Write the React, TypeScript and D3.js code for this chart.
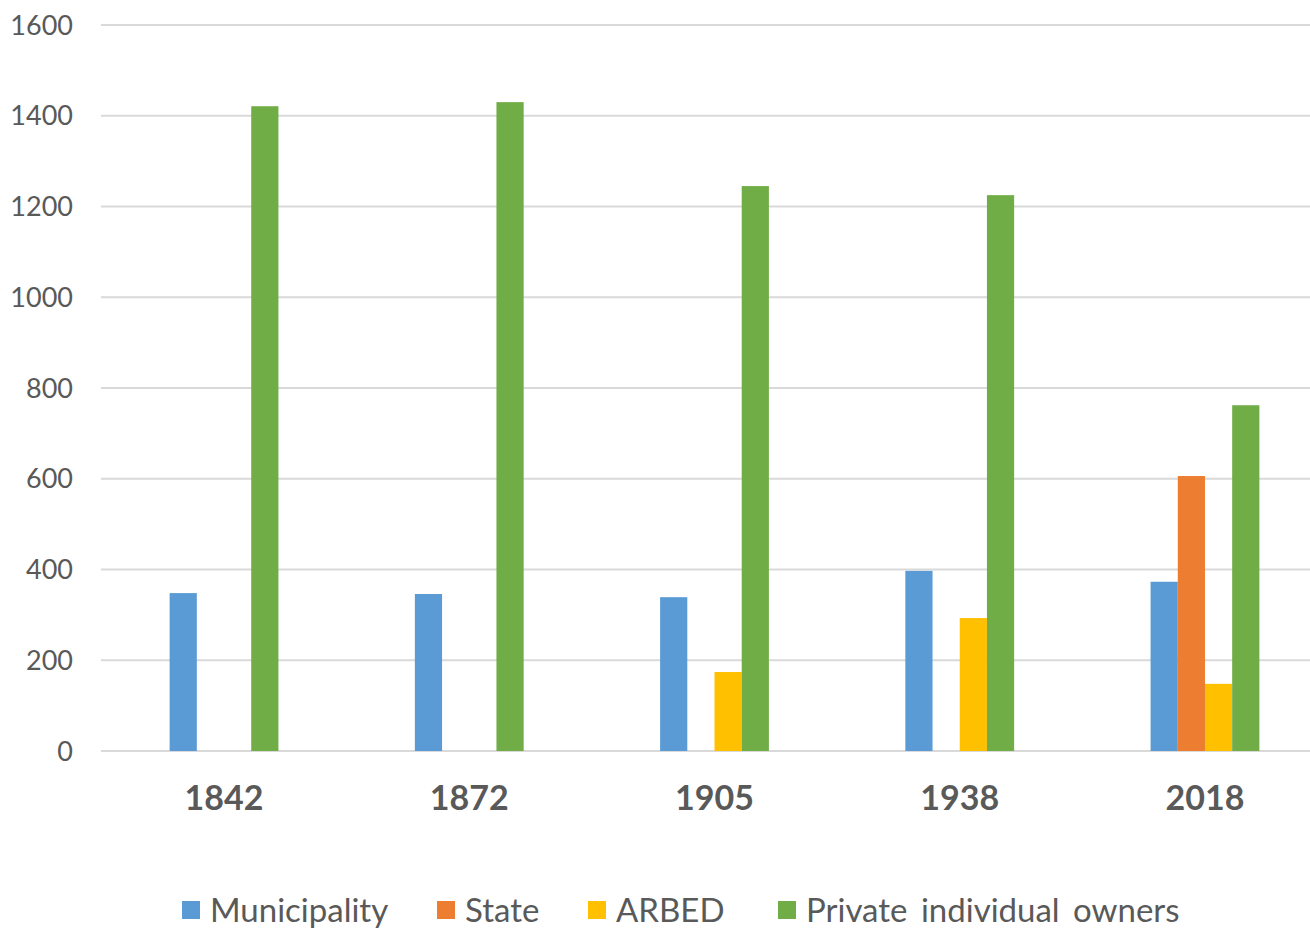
import React from "react";
import * as d3 from "d3";

const years = ["1842", "1872", "1905", "1938", "2018"];
const seriesNames = ["Municipality", "State", "ARBED", "Private individual owners"];
const municipality = [348, 346, 339, 397, 373];
const state = [0, 0, 0, 0, 606];
const arbed = [0, 0, 174, 293, 148];
const privateOwners = [1421, 1430, 1245, 1225, 762];
const colors = ["#5b9bd5", "#ed7d31", "#ffc000", "#70ad47"];
const yTicks = [0, 200, 400, 600, 800, 1000, 1200, 1400, 1600];

const W = 1310;
const H = 929;
const FONT = "Lato, 'Open Sans', sans-serif";

export default function App() {
  const seriesValues = [municipality, state, arbed, privateOwners];
  const x = d3.scaleBand<string>().domain(years).range([101.4, 1327.6]).paddingInner(0).paddingOuter(0);
  const groupW = 108.8;
  const x1 = d3.scaleBand<number>().domain([0, 1, 2, 3]).range([0, groupW]);
  const y = d3.scaleLinear().domain([0, 1600]).range([751, 25]);

  const legendX = [182, 437, 588, 778];

  return (
    <svg width={W} height={H} style={{ position: "absolute", left: 0, top: 0, display: "block", background: "#fff" }}>
      {yTicks.map((t) => (
        <g key={t}>
          <line x1={101} x2={1310} y1={y(t)} y2={y(t)} stroke="#d9d9d9" strokeWidth={2} />
          <text x={73} y={y(t)} dy="0.36em" textAnchor="end" fontFamily={FONT} fontSize={27} fill="#595959">
            {t}
          </text>
        </g>
      ))}
      {years.map((yr, i) => {
        const gx = (x(yr) as number) + x.bandwidth() / 2 - groupW / 2;
        return (
          <g key={yr}>
            {seriesValues.map((vals, s) =>
              vals[i] > 0 ? (
                <rect
                  key={s}
                  x={gx + (x1(s) as number)}
                  y={y(vals[i])}
                  width={x1.bandwidth()}
                  height={y(0) - y(vals[i])}
                  fill={colors[s]}
                />
              ) : null
            )}
            <text
              x={(x(yr) as number) + x.bandwidth() / 2}
              y={810}
              textAnchor="middle"
              fontFamily={FONT}
              fontWeight="bold"
              fontSize={34}
              fill="#595959"
            >
              {yr}
            </text>
          </g>
        );
      })}
      {seriesNames.map((name, s) => (
        <g key={name}>
          <rect x={legendX[s]} y={901} width={18} height={18} fill={colors[s]} />
          <text x={legendX[s] + 28} y={922} fontFamily={FONT} fontSize={33} wordSpacing={5} fill="#595959">
            {name}
          </text>
        </g>
      ))}
    </svg>
  );
}
